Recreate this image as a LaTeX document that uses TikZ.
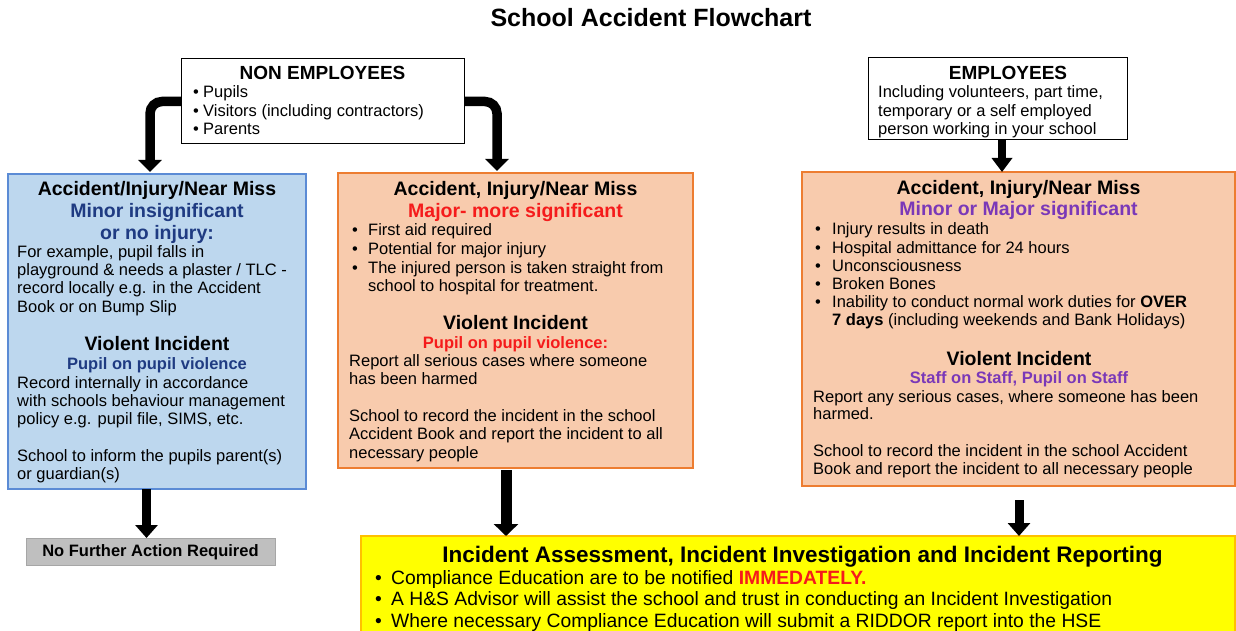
\documentclass[tikz,border=0pt]{standalone}
\usepackage{fontspec}
\setmainfont{Liberation Sans}
\usetikzlibrary{arrows.meta}
\definecolor{bluefill}{HTML}{BDD7EE}
\definecolor{blueline}{HTML}{5B8BD5}
\definecolor{navy}{HTML}{1F3B82}
\definecolor{orfill}{HTML}{F8CBAD}
\definecolor{orline}{HTML}{ED7D31}
\definecolor{myred}{HTML}{F51B1B}
\definecolor{mypurple}{HTML}{7A38B8}
\definecolor{yelfill}{HTML}{FFFF00}
\definecolor{yelline}{HTML}{FFC000}
\definecolor{greyfill}{HTML}{BFBFBF}
\definecolor{greyline}{HTML}{A6A6A6}
\newcounter{tlc}
\newcommand\mytl[4][]{\stepcounter{tlc}\node[body,#1] (t\arabic{tlc}) at (#2,#3) {#4};}
\begin{document}
\begin{tikzpicture}[x=1pt,y=-1pt,
  box/.style={draw, inner sep=0pt, outer sep=0pt},
  body/.style={font=\fontsize{16.5}{19}\selectfont, inner sep=0pt, anchor=base west, text=black},
  head/.style={font=\fontsize{19.5}{22}\selectfont\bfseries, anchor=base},
  sub/.style={font=\fontsize{16.5}{19}\selectfont\bfseries, anchor=base},
  ybody/.style={font=\fontsize{19.3}{22}\selectfont},
  bigarrow/.style={line width=9.5pt, -{Triangle[width=23pt,length=12pt]}},
]
\clip (0,0) rectangle (1236,631);
\fill[white] (0,0) rectangle (1236,631);

% title
\node[font=\fontsize{25}{30}\selectfont\bfseries, anchor=base, inner sep=0pt] (title) at (651,27) {School Accident Flowchart};

% boxes
\node[box, fill=white, line width=1pt, minimum width=283pt, minimum height=85pt] (ne) at (322.5,101.5) {};
\node[box, fill=white, line width=1pt, minimum width=259pt, minimum height=82pt] (emp) at (997.5,99) {};
\node[box, fill=bluefill, draw=blueline, line width=1.3pt, minimum width=298pt, minimum height=315pt] (blue) at (157,331.5) {};
\node[box, fill=orfill, draw=orline, line width=1.3pt, minimum width=355pt, minimum height=295pt] (mid) at (515.5,320.5) {};
\node[box, fill=orfill, draw=orline, line width=1.3pt, minimum width=433pt, minimum height=314pt] (rbox) at (1018.5,329) {};
\node[box, fill=greyfill, draw=greyline, line width=1pt, minimum width=249pt, minimum height=27pt] (grey) at (150.5,551.5) {};
\node[box, fill=yelfill, draw=yelline, line width=1.3pt, minimum width=874pt, minimum height=114pt] (yel) at (798,593) {};

% NON EMPLOYEES
\mytl[head, font=\fontsize{19}{22}\selectfont\bfseries]{322.5}{79.5}{NON EMPLOYEES}
\mytl{193}{98}{•}\mytl{203}{98}{Pupils}
\mytl{193}{117}{•}\mytl{203}{117}{Visitors (including contractors)}
\mytl{193}{135}{•}\mytl{203}{135}{Parents}

% EMPLOYEES
\mytl[head, font=\fontsize{19}{22}\selectfont\bfseries]{1008}{79.5}{EMPLOYEES}
\mytl{878}{98}{Including volunteers, part time,}
\mytl{878}{117}{temporary or a self employed}
\mytl{878}{135}{person working in your school}

% blue box
\mytl[head]{157}{196}{Accident/Injury/Near Miss}
\mytl[head, text=navy]{157}{217}{Minor insignificant}
\mytl[head, text=navy]{157}{239}{or no injury:}
\mytl{17}{257}{For example, pupil falls in}
\mytl{17}{275}{playground \& needs a plaster / TLC -}
\mytl{17}{293}{record locally e.g. in the Accident}
\mytl{17}{312}{Book or on Bump Slip}
\mytl[head]{157}{350}{Violent Incident}
\mytl[sub, text=navy]{157}{369}{Pupil on pupil violence}
\mytl{17}{388}{Record internally in accordance}
\mytl{17}{406}{with schools behaviour management}
\mytl{17}{424}{policy e.g. pupil file, SIMS, etc.}
\mytl{17}{461}{School to inform the pupils parent(s)}
\mytl{17}{479}{or guardian(s)}

% middle box
\mytl[head]{515.5}{196}{Accident, Injury/Near Miss}
\mytl[head, text=myred]{515.5}{217}{Major- more significant}
\mytl{352}{235}{•}\mytl{368}{235}{First aid required}
\mytl{352}{254}{•}\mytl{368}{254}{Potential for major injury}
\mytl{352}{273}{•}\mytl{368}{273}{The injured person is taken straight from}
\mytl{368}{291}{school to hospital for treatment.}
\mytl[head]{515.5}{329}{Violent Incident}
\mytl[sub, text=myred]{515.5}{348}{Pupil on pupil violence:}
\mytl{349}{366}{Report all serious cases where someone}
\mytl{349}{384}{has been harmed}
\mytl{349}{421}{School to record the incident in the school}
\mytl{349}{439}{Accident Book and report the incident to all}
\mytl{349}{458}{necessary people}

% right box
\mytl[head]{1018.5}{194}{Accident, Injury/Near Miss}
\mytl[head, text=mypurple]{1018.5}{215}{Minor or Major significant}
\mytl{815}{234}{•}\mytl{832}{234}{Injury results in death}
\mytl{815}{253}{•}\mytl{832}{253}{Hospital admittance for 24 hours}
\mytl{815}{271}{•}\mytl{832}{271}{Unconsciousness}
\mytl{815}{289}{•}\mytl{832}{289}{Broken Bones}
\mytl{815}{307}{•}\mytl{832}{307}{Inability to conduct normal work duties for \textbf{OVER}}
\mytl{832}{325}{\textbf{7 days} (including weekends and Bank Holidays)}
\mytl[head]{1019}{365}{Violent Incident}
\mytl[sub, text=mypurple]{1019}{383}{Staff on Staff, Pupil on Staff}
\mytl{813}{402}{Report any serious cases, where someone has been}
\mytl{813}{419}{harmed.}
\mytl{813}{456}{School to record the incident in the school Accident}
\mytl{813}{474}{Book and report the incident to all necessary people}

% grey box
\mytl[sub]{150.5}{556}{No Further Action Required}

% yellow box
\mytl[head, font=\fontsize{22.5}{26}\selectfont\bfseries]{802.5}{562}{Incident Assessment, Incident Investigation and Incident Reporting}
\mytl[ybody]{375}{584}{•}\mytl[ybody]{391}{584}{Compliance Education are to be notified \textcolor{myred}{\bfseries IMMEDATELY.}}
\mytl[ybody]{375}{605}{•}\mytl[ybody]{391}{605}{A H\&S Advisor will assist the school and trust in conducting an Incident Investigation}
\mytl[ybody]{375}{627}{•}\mytl[ybody]{391}{627}{Where necessary Compliance Education will submit a RIDDOR report into the HSE}

% arrows
\draw[bigarrow, rounded corners=12pt, shorten >=2pt] (ne.west) -| ([xshift=-7pt]blue.north);
\draw[bigarrow, rounded corners=12pt, shorten >=2pt] (ne.east) -| ([xshift=-18.5pt]mid.north);
\draw[line width=8pt, -{Triangle[width=20pt,length=14pt]}] ([xshift=4.5pt]emp.south) -- ([xshift=4.5pt]emp.south |- rbox.north);
\draw[bigarrow, -{Triangle[width=22pt,length=13pt]}] ([xshift=-4pt]grey.north |- blue.south) -- ([xshift=-4pt]grey.north);
\draw[line width=11pt, -{Triangle[width=24pt,length=12pt]}, shorten <=2pt] ([xshift=-9.5pt]mid.south) -- ([xshift=-9.5pt]mid.south |- yel.north);
\draw[line width=9pt, -{Triangle[width=22pt,length=13pt]}, shorten <=14pt] ([xshift=0.5pt]rbox.south) -- ([xshift=0.5pt]rbox.south |- yel.north);
\end{tikzpicture}
\end{document}
